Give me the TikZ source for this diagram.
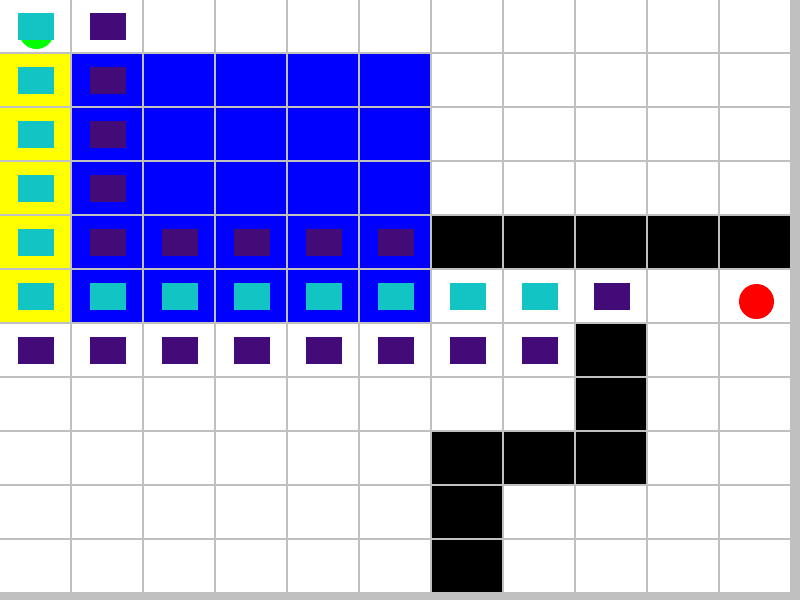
\documentclass[tikz,border=0pt]{standalone}
\definecolor{gridgray}{HTML}{C0C0C0}
\definecolor{agentcyan}{HTML}{12C4C4}
\definecolor{trailpurple}{HTML}{430B78}
\definecolor{goalred}{HTML}{FF0000}
\definecolor{startgreen}{HTML}{00FF00}
\definecolor{zoneblue}{HTML}{0000FF}
\definecolor{sideyellow}{HTML}{FFFF00}
% one grid square (col, row) and one marker in it
\newcommand{\gridcell}[3]{\fill[#1] (72*#2,54*#3) rectangle ++(70,52);}
\newcommand{\markbox}[3]{\fill[#1] (72*#2+18,54*#3+13) rectangle ++(36,27);}
\begin{document}
\begin{tikzpicture}[x=1pt,y=-1pt]
  % background and grid
  \fill[gridgray] (0,0) rectangle (800,600);
  \foreach \r in {0,...,10} \foreach \c in {0,...,10} \gridcell{white}{\c}{\r};
  \foreach \r in {1,...,5} \gridcell{sideyellow}{0}{\r};
  \foreach \r in {1,...,5} \foreach \c in {1,...,5} \gridcell{zoneblue}{\c}{\r};
  \foreach \c/\r in {6/4,7/4,8/4,9/4,10/4,8/6,8/7,6/8,7/8,8/8,6/9,6/10}
    \gridcell{black}{\c}{\r};
  % start and goal
  \fill[startgreen] (36.5,31.5) circle[radius=17.5];
  \fill[goalred] (756.5,301.5) circle[radius=17.5];
  % markers
  \foreach \c/\r in {0/0,0/1,0/2,0/3,0/4,0/5,1/5,2/5,3/5,4/5,5/5,6/5,7/5}
    \markbox{agentcyan}{\c}{\r};
  \foreach \c/\r in {1/0,1/1,1/2,1/3,1/4,2/4,3/4,4/4,5/4,8/5}
    \markbox{trailpurple}{\c}{\r};
  \foreach \c in {0,...,7} \markbox{trailpurple}{\c}{6};
\end{tikzpicture}
\end{document}
